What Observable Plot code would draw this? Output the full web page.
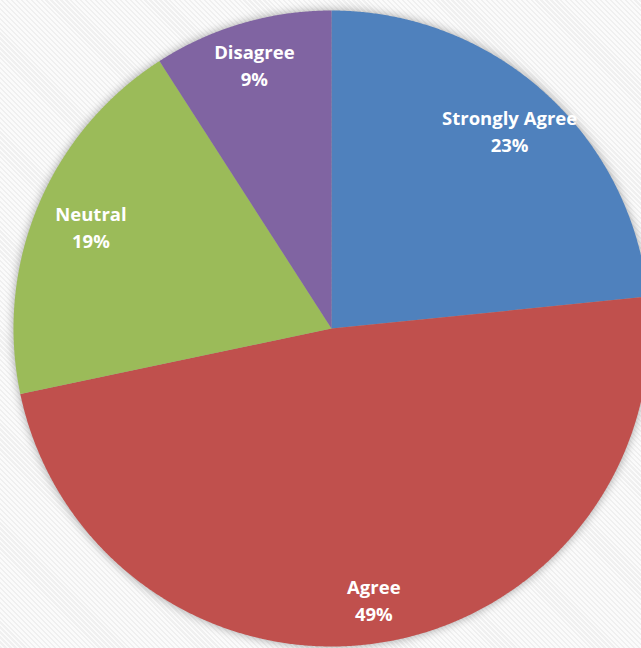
<!DOCTYPE html>
<html>
<head>
<meta charset="utf-8">
<script src="https://cdn.jsdelivr.net/npm/d3@7"></script>
<script src="https://cdn.jsdelivr.net/npm/@observablehq/plot@0.6"></script>
<style>
  html, body { margin: 0; padding: 0; overflow: hidden; }
  body {
    width: 641px; height: 648px;
    background: repeating-linear-gradient(45deg, #f0f0f0 0px, #f0f0f0 1.6px, #fbfbfb 1.6px, #fbfbfb 3.5px);
  }
  #chart svg { display: block; overflow: hidden; background: transparent; }
  #chart .slices { filter: drop-shadow(0 0 5px rgba(0,0,0,0.35)); }
</style>
</head>
<body>
<div id="chart"></div>
<script>
const categories = ["Strongly Agree", "Agree", "Neutral", "Disagree"];
const values = [23.4, 48.3, 19.2, 9.1];
const percentLabels = ["23%", "49%", "19%", "9%"];
const colors = ["#4F81BD", "#C0504D", "#9BBB59", "#8064A2"];

// layout: label distance from centre (fraction of radius), as placed by the original "best fit"
const labelRadius = [0.835, 0.868, 0.82, 0.86];

const total = d3.sum(values);
const slices = [];
const labels = [];
let acc = 0;
categories.forEach((cat, i) => {
  const a0 = acc / total * 2 * Math.PI;
  acc += values[i];
  const a1 = acc / total * 2 * Math.PI;
  const n = Math.max(4, Math.ceil((a1 - a0) / 0.005));
  slices.push({cat, x: 0, y: 0});
  for (let k = 0; k <= n; k++) {
    const a = a0 + (a1 - a0) * k / n;
    slices.push({cat, x: Math.sin(a), y: Math.cos(a)});
  }
  slices.push({cat, x: 0, y: 0});
  const am = (a0 + a1) / 2;
  const r = labelRadius[i];
  labels.push({cat, pct: percentLabels[i], x: r * Math.sin(am), y: r * Math.cos(am)});
});

const cx = 331, cy = 328, R = 318;
const plot = Plot.plot({
  width: 641,
  height: 648,
  margin: 0,
  x: {domain: [-1, 1], range: [cx - R, cx + R], axis: null},
  y: {domain: [-1, 1], range: [cy + R, cy - R], axis: null},
  color: {domain: categories, range: colors},
  style: {background: "transparent", fontFamily: "'Open Sans', sans-serif"},
  marks: [
    Plot.line(slices, {x: "x", y: "y", z: "cat", fill: "cat", stroke: null, className: "slices"}),
    Plot.text(labels, {
      x: "x", y: "y",
      text: d => d.cat + "\n" + d.pct,
      fill: "white",
      fontSize: 18.5,
      fontWeight: "bold",
      lineHeight: 1.46,
      textAnchor: "middle",
      dy: -2
    })
  ]
});
document.getElementById("chart").appendChild(plot);
</script>
</body>
</html>
